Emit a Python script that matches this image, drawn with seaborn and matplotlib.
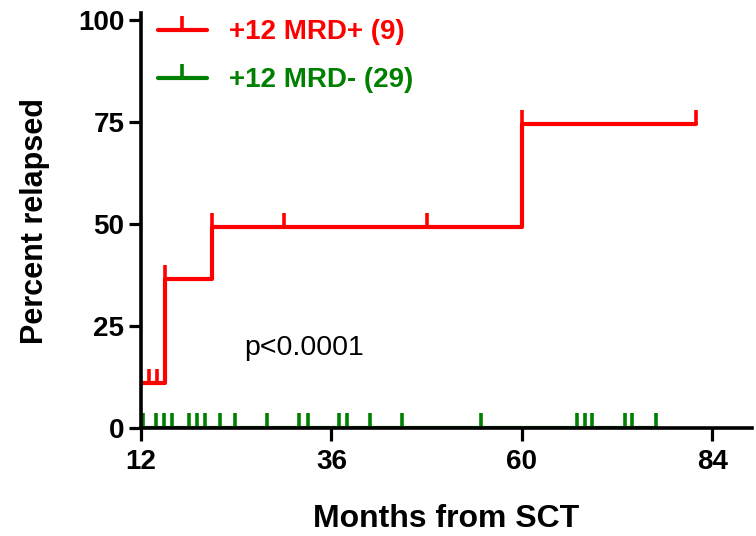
import matplotlib
matplotlib.use('Agg')
import matplotlib.pyplot as plt
from matplotlib.lines import Line2D
import seaborn as sns

# Kaplan-Meier style relapse curves
red_time = [12, 15, 21, 60, 82]
red_pct = [11.1, 36.5, 49.2, 74.6, 74.6]
red_cens_time = [13, 14, 15, 21, 30, 48, 60, 82]
red_cens_pct = [11.1, 11.1, 36.5, 49.2, 49.2, 49.2, 74.6, 74.6]

green_time = [12, 77]
green_pct = [0, 0]
green_cens_time = [12.2, 13.9, 14.9, 15.9, 18.0, 19.1, 20.1, 22.0, 23.9, 27.9,
                   31.9, 33.0, 36.9, 38.0, 40.9, 44.9, 54.9, 67.0, 68.0, 68.9,
                   73.0, 73.9, 76.9]
green_cens_pct = [0] * len(green_cens_time)

labels = ['+12 MRD+ (9)', '+12 MRD- (29)']
colors = ['#ff0000', '#008000']
x_ticks = [12, 36, 60, 84]
y_ticks = [0, 25, 50, 75, 100]

sns.set_style('ticks')
plt.rcParams['font.family'] = ['Liberation Sans', 'DejaVu Sans']
plt.rcParams.update({'text.color': 'black', 'axes.labelcolor': 'black',
                     'xtick.color': 'black', 'ytick.color': 'black'})

fig = plt.figure(figsize=(7.56, 5.36), dpi=100)
ax = fig.add_axes([0.1865, 0.2015, 0.8082, 0.7742])

tick = [(0, 0), (0, 1)]  # upward censor tick

sns.lineplot(x=green_time, y=green_pct, drawstyle='steps-post', color=colors[1],
             lw=3, ax=ax)
sns.lineplot(x=red_time, y=red_pct, drawstyle='steps-post', color=colors[0],
             lw=3, ax=ax)
ax.plot(green_cens_time, green_cens_pct, ls='none', marker=tick, ms=21,
        mew=2.6, mec=colors[1], color=colors[1])
ax.plot(red_cens_time, red_cens_pct, ls='none', marker=tick, ms=20,
        mew=2.6, mec=colors[0], color=colors[0])

ax.text(25, 19.6, 'p<0.0001', fontsize=20.5, va='center', color='black')

handles = [Line2D([], [], color=c, lw=3, marker=tick, ms=20, mew=2.6, mec=c)
           for c in colors]
ax.legend(handles, labels, loc='upper left', bbox_to_anchor=(0.028, 0.985),
          frameon=False, handlelength=1.75, handletextpad=0.8,
          labelspacing=0.8, borderpad=0, borderaxespad=0,
          labelcolor=colors, prop={'size': 20, 'weight': 'bold'})

ax.set_xlim(12, 89)
ax.set_ylim(0, 101.7)
ax.set_xticks(x_ticks)
ax.set_yticks(y_ticks)
ax.tick_params(direction='out', length=9, width=2.3, labelsize=20, pad=6,
               color='black', labelcolor='black')
ax.tick_params(axis='y', pad=3)
for lab in ax.get_xticklabels() + ax.get_yticklabels():
    lab.set_fontweight('bold')

for side in ['top', 'right']:
    ax.spines[side].set_visible(False)
for side in ['left', 'bottom']:
    ax.spines[side].set_linewidth(2.6)
    ax.spines[side].set_color('black')

ax.set_xlabel('Months from SCT', fontsize=23, fontweight='bold', labelpad=21)
ax.set_ylabel('Percent relapsed', fontsize=22, fontweight='bold', labelpad=20)

fig.savefig('out.png', dpi=100)
